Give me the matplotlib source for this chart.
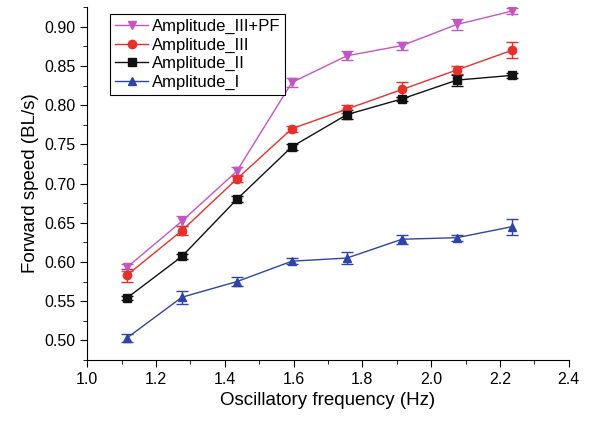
import matplotlib
matplotlib.use("Agg")
import matplotlib.pyplot as plt
from matplotlib.lines import Line2D
from matplotlib.ticker import MultipleLocator, FormatStrFormatter

plt.rcParams['font.family'] = ['Liberation Sans', 'DejaVu Sans']

# oscillatory frequency (Hz)
freq = [1.115, 1.275, 1.435, 1.595, 1.755, 1.915, 2.075, 2.235]

# forward speed (BL/s) and error bars
amp_pf = [0.593, 0.652, 0.716, 0.829, 0.863, 0.876, 0.903, 0.920]
amp_pf_err = [0.005, 0.006, 0.005, 0.006, 0.006, 0.005, 0.007, 0.004]
amp_3 = [0.583, 0.640, 0.706, 0.770, 0.795, 0.820, 0.845, 0.870]
amp_3_err = [0.008, 0.006, 0.004, 0.004, 0.005, 0.009, 0.005, 0.010]
amp_2 = [0.554, 0.607, 0.680, 0.747, 0.788, 0.808, 0.832, 0.838]
amp_2_err = [0.003, 0.003, 0.004, 0.004, 0.006, 0.003, 0.007, 0.003]
amp_1 = [0.503, 0.555, 0.575, 0.601, 0.605, 0.629, 0.631, 0.645]
amp_1_err = [0.005, 0.008, 0.006, 0.004, 0.008, 0.006, 0.004, 0.010]

series = [
    ("Amplitude_III+PF", amp_pf, amp_pf_err, "#c455c4", "v"),
    ("Amplitude_III", amp_3, amp_3_err, "#e8302a", "o"),
    ("Amplitude_II", amp_2, amp_2_err, "#111111", "s"),
    ("Amplitude_I", amp_1, amp_1_err, "#2e44a6", "^"),
]

fig = plt.figure(figsize=(5.9, 4.22), dpi=100)
ax = fig.add_axes([0.148, 0.147, 0.816, 0.836])

handles = []
for name, y, err, col, mk in series:
    ax.errorbar(freq, y, yerr=err, color=col, marker=mk, markersize=6,
                lw=1.0, elinewidth=1.0, capsize=4, capthick=1.0)
    # legend proxy without the error bar
    handles.append(Line2D([], [], color=col, marker=mk, markersize=6, lw=1.0, label=name))

ax.set_xlim(1.0, 2.4)
ax.set_ylim(0.475, 0.925)
ax.xaxis.set_major_locator(MultipleLocator(0.2))
ax.xaxis.set_minor_locator(MultipleLocator(0.1))
ax.yaxis.set_major_locator(MultipleLocator(0.05))
ax.yaxis.set_minor_locator(MultipleLocator(0.025))
ax.xaxis.set_major_formatter(FormatStrFormatter('%.1f'))
ax.yaxis.set_major_formatter(FormatStrFormatter('%.2f'))

ax.spines['top'].set_visible(False)
ax.spines['right'].set_visible(False)
ax.tick_params(which='both', direction='out', labelsize=11.5)
ax.tick_params(which='major', length=5)
ax.tick_params(which='minor', length=3)

ax.set_xlabel("Oscillatory frequency (Hz)", fontsize=13.5)
ax.set_ylabel("Forward speed (BL/s)", fontsize=13.5)

leg = ax.legend(handles=handles, loc='upper left', bbox_to_anchor=(0.047, 0.98),
                fontsize=12, fancybox=False, edgecolor='black', framealpha=1,
                handlelength=2.0, handletextpad=0.2, borderpad=0.3,
                labelspacing=0.2, borderaxespad=0.0)
leg.get_frame().set_linewidth(0.8)

fig.savefig("out.png", dpi=100)
